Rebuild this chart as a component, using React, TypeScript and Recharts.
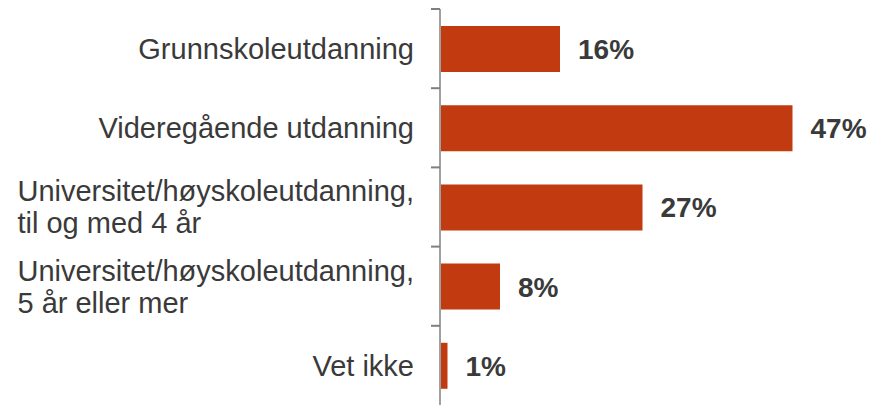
import { BarChart, Bar, XAxis, YAxis, LabelList } from "recharts"

const categories = [
  "Grunnskoleutdanning",
  "Videregående utdanning",
  "Universitet/høyskoleutdanning,\ntil og med 4 år",
  "Universitet/høyskoleutdanning,\n5 år eller mer",
  "Vet ikke",
]
const values = [16, 47, 27, 8, 1]

const data = categories.map((name, i) => ({ name, value: values[i] }))

if (typeof document !== "undefined") document.body.style.margin = "0"

const FONT = "'Liberation Sans', Arial, sans-serif"
const FONT_SIZE = 29
const BAND = 396 / categories.length

// measure text so multi-line labels can be left aligned inside a right aligned block
let ctx: CanvasRenderingContext2D | null = null
function textWidth(s: string) {
  if (!ctx) ctx = document.createElement("canvas").getContext("2d")
  if (!ctx) return s.length * FONT_SIZE * 0.5
  ctx.font = `${FONT_SIZE}px ${FONT}`
  return ctx.measureText(s).width
}

function CategoryTick({ x, y, payload }: any) {
  const lines = String(payload.value).split("\n")
  const start = -((lines.length - 1) * 32) / 2
  const right = x - 18
  const left = right - Math.max(...lines.map(textWidth))
  return (
    <g>
      <line x1={x - 1} x2={x + 8} y1={y - BAND / 2} y2={y - BAND / 2} stroke="#7f7f7f" strokeWidth={2} />
      <text x={left} y={y} textAnchor="start" fill="#3a3a3a" fontSize={FONT_SIZE} fontFamily={FONT}>
        {lines.map((l, i) => (
          <tspan key={i} x={lines.length > 1 ? left : right - textWidth(l)} y={y + start + i * 32} dy="0.36em">
            {l}
          </tspan>
        ))}
      </text>
    </g>
  )
}

export default function App() {
  return (
    <BarChart
      width={872}
      height={405}
      data={data}
      layout="vertical"
      margin={{ top: 9, right: 57, bottom: 0, left: 0 }}
    >
      <XAxis type="number" domain={[0, 50]} hide />
      <YAxis
        type="category"
        dataKey="name"
        width={440}
        axisLine={{ stroke: "#a0a0a0", strokeWidth: 2 }}
        tickLine={false}
        tick={<CategoryTick />}
        interval={0}
      />
      <Bar dataKey="value" fill="#c23b10" barSize={46} isAnimationActive={false}>
        <LabelList
          dataKey="value"
          position="right"
          offset={18}
          formatter={(v: any) => `${v}%`}
          fill="#3a3a3a"
          fontSize={28}
          fontWeight="bold"
          fontFamily={FONT}
        />
      </Bar>
    </BarChart>
  )
}
